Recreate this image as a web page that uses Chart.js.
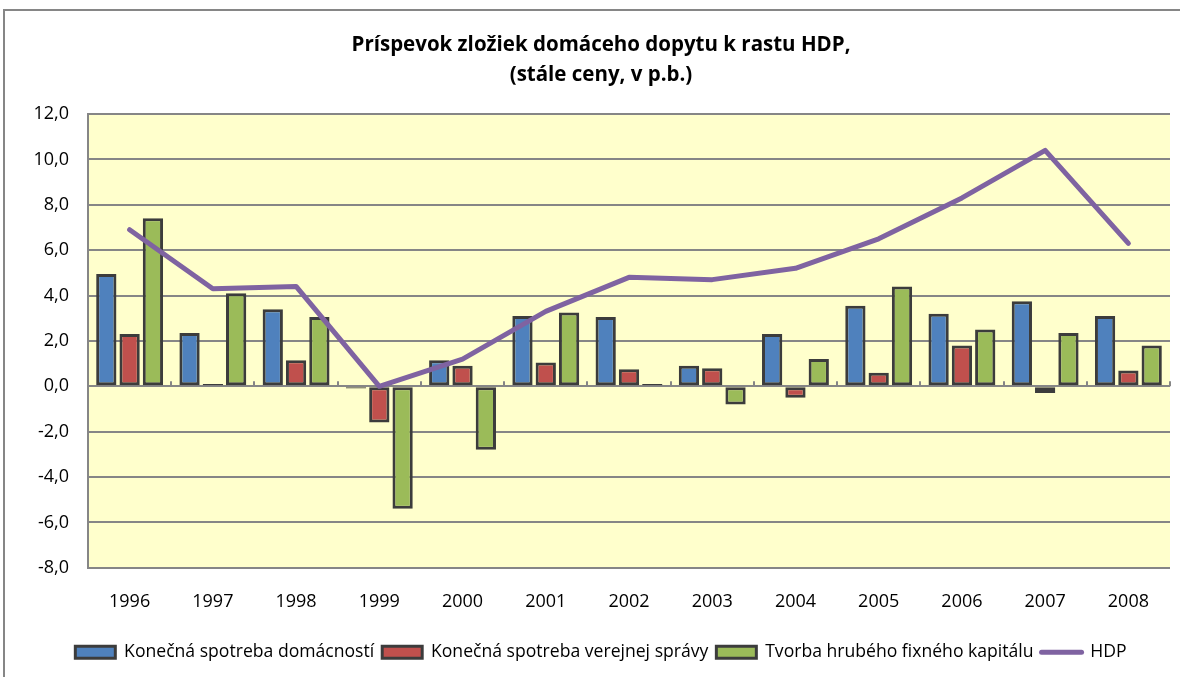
<!DOCTYPE html>
<html><head><meta charset="utf-8">
<script src="https://cdn.jsdelivr.net/npm/chart.js@4.4.1/dist/chart.umd.min.js"></script>
<style>html,body{margin:0;padding:0;background:#fff;}#wrap{width:1180px;height:677px;position:relative;}canvas{display:block;}</style>
</head><body><div id="wrap"><canvas id="c" width="1180" height="677"></canvas></div>
<script>
const categories = ['1996','1997','1998','1999','2000','2001','2002','2003','2004','2005','2006','2007','2008'];
const households = [4.95, 2.35, 3.4, -0.1, 1.15, 3.1, 3.05, 0.9, 2.3, 3.55, 3.2, 3.75, 3.1];
const government = [2.3, 0.1, 1.15, -1.6, 0.9, 1.05, 0.75, 0.8, -0.5, 0.6, 1.8, -0.3, 0.7];
const investment = [7.4, 4.1, 3.05, -5.4, -2.8, 3.25, 0.1, -0.8, 1.2, 4.4, 2.5, 2.35, 1.8];
const gdp = [6.9, 4.3, 4.4, 0.0, 1.2, 3.3, 4.8, 4.7, 5.2, 6.5, 8.3, 10.4, 6.3];
const seriesNames = ['Konečná spotreba domácností', 'Konečná spotreba verejnej správy', 'Tvorba hrubého fixného kapitálu', 'HDP'];
const titleLines = ['Príspevok zložiek domáceho dopytu k rastu HDP,', '(stále ceny, v p.b.)'];
const yMin = -8, yMax = 12, yStep = 2;

const GRID = '#868686';
const EDGE = '#3C3C3C';
const decor = {
  id: 'decor',
  beforeDraw(chart) {
    const ctx = chart.ctx, a = chart.chartArea;
    ctx.save();
    ctx.fillStyle = '#fff';
    ctx.fillRect(0, 0, chart.width, chart.height);
    ctx.strokeStyle = GRID; ctx.lineWidth = 2;
    ctx.beginPath();
    ctx.moveTo(4, 677); ctx.lineTo(4, 10); ctx.lineTo(1180, 10);
    ctx.stroke();
    ctx.fillStyle = '#FFFFCC';
    ctx.fillRect(a.left, a.top, a.right - a.left, a.bottom - a.top);
    ctx.restore();
  },
  beforeDatasetsDraw(chart) {
    const ctx = chart.ctx, x = chart.scales.x, y = chart.scales.y;
    const y0 = y.getPixelForValue(0);
    const n = categories.length;
    const w = (x.right - x.left) / n;
    ctx.save();
    ctx.strokeStyle = GRID; ctx.lineWidth = 2;
    ctx.beginPath();
    for (let i = 0; i <= n; i++) {
      const px = Math.round(x.left + i * w);
      ctx.moveTo(px, y0); ctx.lineTo(px, y0 - 5);
    }
    ctx.stroke();
    ctx.restore();
  }
};

const barCommon = {borderColor: EDGE, borderWidth: 3, borderSkipped: false, barPercentage: 0.87, categoryPercentage: 0.84, order: 1};
new Chart(document.getElementById('c'), {
  type: 'bar',
  data: {
    labels: categories,
    datasets: [
      Object.assign({label: seriesNames[0], data: households, backgroundColor: '#4F81BD'}, barCommon),
      Object.assign({label: seriesNames[1], data: government, backgroundColor: '#C0504D'}, barCommon),
      Object.assign({label: seriesNames[2], data: investment, backgroundColor: '#9BBB59'}, barCommon),
      {type: 'line', label: seriesNames[3], data: gdp, borderColor: '#7F63A1', backgroundColor: '#7F63A1', borderWidth: 5,
       pointRadius: 0, pointStyle: 'line', borderCapStyle: 'round', borderJoinStyle: 'round', tension: 0, order: 0}
    ]
  },
  options: {
    responsive: false,
    animation: false,
    devicePixelRatio: 1,
    layout: {padding: {left: 32, right: 10, top: 0, bottom: 6}},
    plugins: {
      title: {display: true, text: titleLines, color: '#000',
        font: {family: 'Open Sans', size: 20.5, weight: 'bold', lineHeight: 30/20.5},
        padding: {top: 30, bottom: 24}},
      legend: {position: 'bottom',
        labels: {usePointStyle: true, pointStyleWidth: 40, boxHeight: 12, padding: 8, color: '#000',
          font: {family: 'Open Sans', size: 17.6},
          sort: (a, b) => a.datasetIndex - b.datasetIndex,
          generateLabels(chart) {
            const items = Chart.defaults.plugins.legend.labels.generateLabels(chart);
            items.forEach(it => {
              if (it.datasetIndex < 3) { it.pointStyle = 'rect'; it.strokeStyle = EDGE; it.lineWidth = 3; }
              else { it.pointStyle = 'line'; it.lineWidth = 5; it.lineCap = 'round'; it.strokeStyle = '#7F63A1'; }
            });
            return items;
          }}},
      tooltip: {enabled: false}
    },
    scales: {
      x: {grid: {display: false, drawTicks: false}, border: {display: false},
        ticks: {color: '#000', padding: 23, maxRotation: 0, font: {family: 'Open Sans', size: 18}}},
      y: {min: yMin, max: yMax,
        afterFit(s) { s.width = 56; },
        grid: {color: GRID, lineWidth: 2, drawTicks: false},
        border: {display: true, color: GRID, width: 2},
        ticks: {stepSize: yStep, padding: 19, color: '#000', font: {family: 'Open Sans', size: 18},
          callback: v => v.toFixed(1).replace('.', ',')}}
    }
  },
  plugins: [decor]
});
</script></body></html>
